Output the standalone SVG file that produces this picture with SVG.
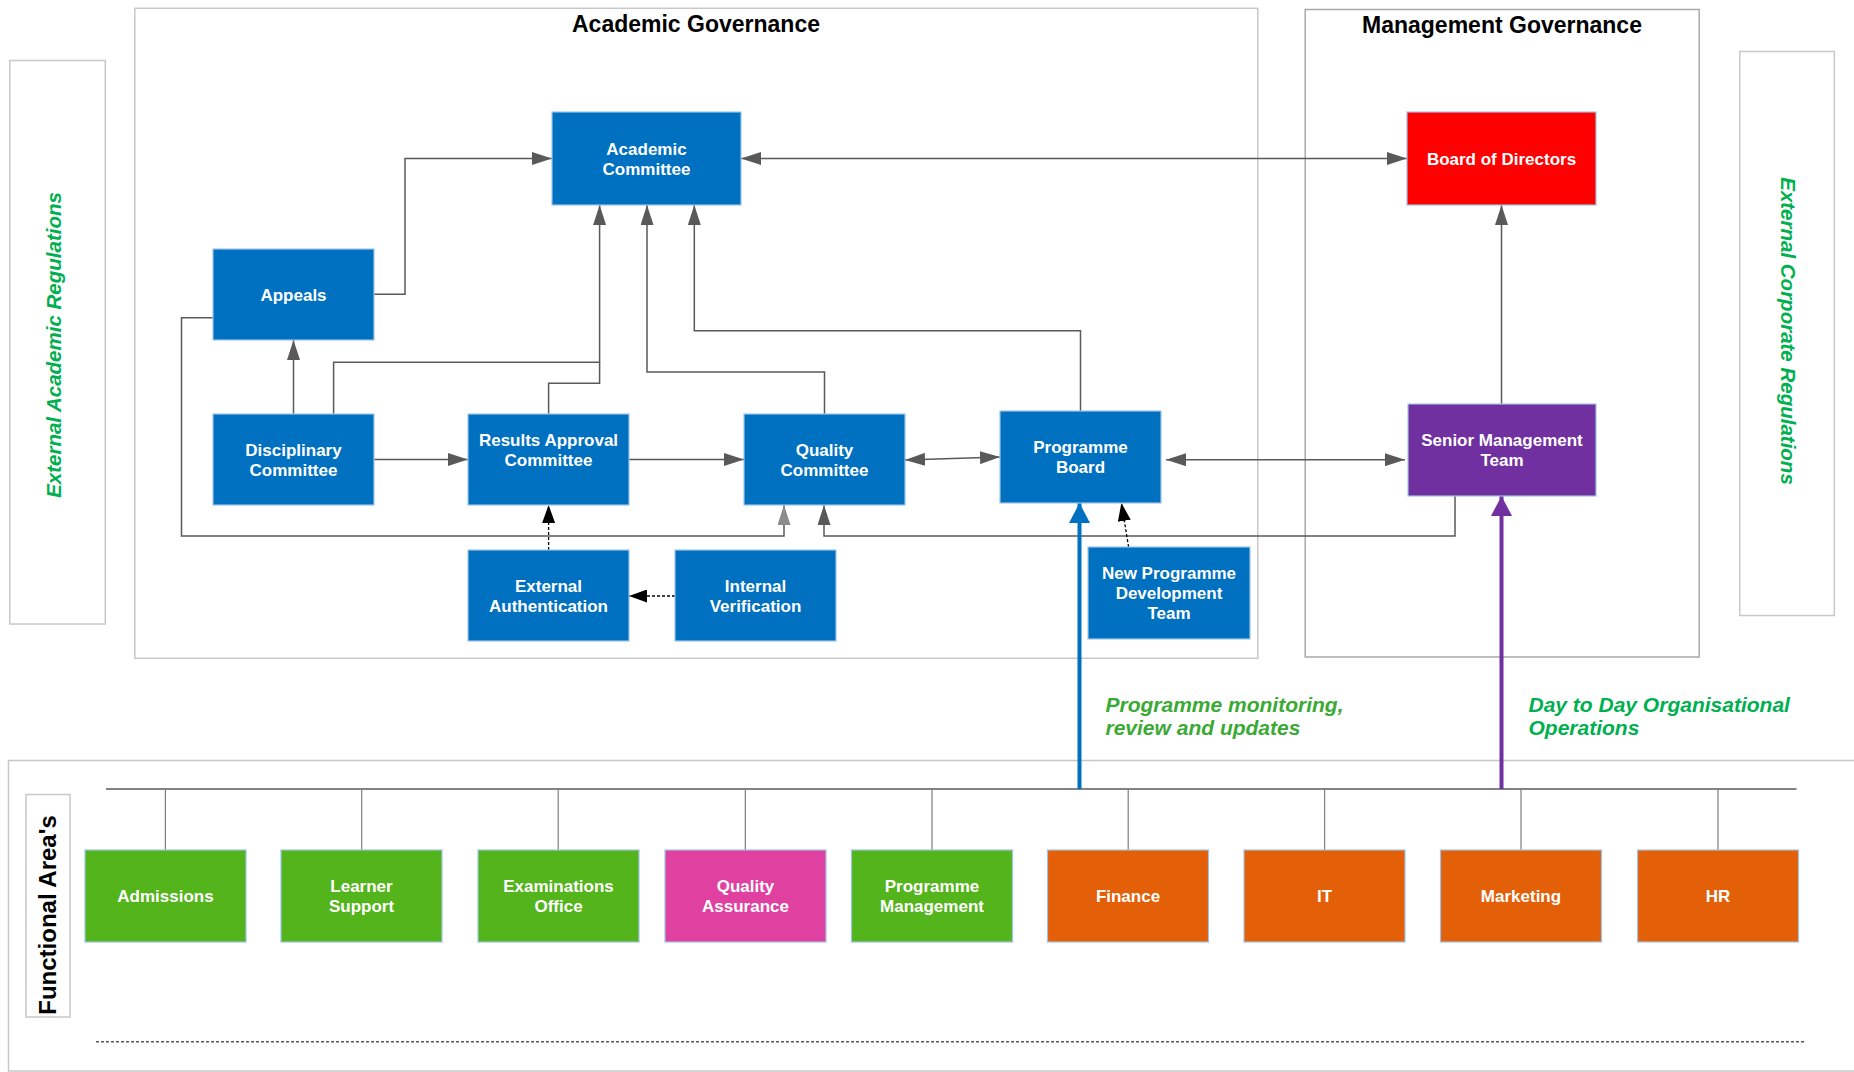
<svg xmlns="http://www.w3.org/2000/svg" width="1854" height="1072" viewBox="0 0 1854 1072">
  <style>
    .cont{fill:none;stroke:#c8c8c8;stroke-width:1.5}
    .cont2{fill:none;stroke:#a8a8a8;stroke-width:1.5}
    .node{stroke:#9dc3e6;stroke-width:1.2}
    .blue{fill:#0070c0}
    .red{fill:#ff0000}
    .purple{fill:#7030a0}
    .green{fill:#54b41c}
    .magenta{fill:#e040a0}
    .orange{fill:#e36009}
    .nt{font-family:"Liberation Sans",Arial,sans-serif;font-weight:bold;font-size:17px;fill:#ffffff;text-anchor:middle}
    .title{font-family:"Liberation Sans",Arial,sans-serif;font-weight:bold;font-size:23px;fill:#000000;text-anchor:middle}
    .reg{font-family:"Liberation Sans",Arial,sans-serif;font-weight:bold;font-style:italic;font-size:20.5px;fill:#00b050;text-anchor:middle}
    .lbl{font-family:"Liberation Sans",Arial,sans-serif;font-weight:bold;font-style:italic;font-size:21px}
    .c{fill:none;stroke:#595959;stroke-width:1.5}
    .d{fill:none;stroke:#000000;stroke-width:1.3;stroke-dasharray:3 2}
    .drop{fill:none;stroke:#7f7f7f;stroke-width:1.2}
  </style>
  <defs>
    <marker id="ag" markerUnits="userSpaceOnUse" markerWidth="20" markerHeight="13" refX="20" refY="6.5" orient="auto-start-reverse">
      <path d="M0,0 L20,6.5 L0,13 z" fill="#595959"/>
    </marker>
    <marker id="al" markerUnits="userSpaceOnUse" markerWidth="20" markerHeight="13" refX="20" refY="6.5" orient="auto-start-reverse">
      <path d="M0,0 L20,6.5 L0,13 z" fill="#8c8c8c"/>
    </marker>
    <marker id="ab" markerUnits="userSpaceOnUse" markerWidth="18" markerHeight="13" refX="18" refY="6.5" orient="auto">
      <path d="M0,0 L18,6.5 L0,13 z" fill="#000000"/>
    </marker>
    <marker id="abl" markerUnits="userSpaceOnUse" markerWidth="20" markerHeight="21" refX="20" refY="10.5" orient="auto">
      <path d="M0,0 L20,10.5 L0,21 z" fill="#0070c0"/>
    </marker>
    <marker id="apu" markerUnits="userSpaceOnUse" markerWidth="20" markerHeight="21" refX="20" refY="10.5" orient="auto">
      <path d="M0,0 L20,10.5 L0,21 z" fill="#7030a0"/>
    </marker>
  </defs>

  <g id="containers">
    <rect id="academic-governance" class="cont" x="134.8" y="8.3" width="1123" height="650"/>
    <rect id="management-governance" class="cont2" x="1305.2" y="9.5" width="394" height="647.5"/>
    <rect id="ext-academic-box" class="cont" x="9.8" y="60.5" width="95.5" height="563.5"/>
    <rect id="ext-corporate-box" class="cont" x="1739.8" y="51.5" width="94.5" height="564"/>
    <rect id="functional-areas-box" class="cont" x="8.5" y="760.5" width="1860" height="310.5"/>
    <rect id="functional-label-box" class="cont" x="26" y="794.5" width="44" height="222.5"/>
    <text class="title" x="696" y="32">Academic Governance</text>
    <text class="title" x="1502" y="33">Management Governance</text>
    <text class="reg" transform="translate(61,345) rotate(-90)">External Academic Regulations</text>
    <text class="reg" transform="translate(1781,331) rotate(90)">External Corporate Regulations</text>
    <text class="title" transform="translate(56,915) rotate(-90)" style="font-size:24px">Functional Area's</text>
  </g>

  <g id="connectors">
    <path class="c" d="M374,294.3 H405 V158.5 H552" marker-end="url(#ag)"/>
    <path class="c" d="M741,158.5 H1407" marker-start="url(#ag)" marker-end="url(#ag)"/>
    <path class="c" d="M333.6,414 V362.3 H599.6 V205" marker-end="url(#ag)"/>
    <path class="c" d="M548.6,414 V383.3 H599.6 V362.3"/>
    <path class="c" d="M824.5,414 V372 H647 V205" marker-end="url(#ag)"/>
    <path class="c" d="M1080.5,411 V330.7 H694.3 V205" marker-end="url(#ag)"/>
    <path class="c" d="M293.5,414 V340" marker-end="url(#ag)"/>
    <path class="c" d="M374,459.5 H468" marker-end="url(#ag)"/>
    <path class="c" d="M629,459.5 H744" marker-end="url(#ag)"/>
    <path class="c" d="M905,460 L1000,457" marker-start="url(#ag)" marker-end="url(#ag)"/>
    <path class="c" d="M1166,459.7 H1405" marker-start="url(#ag)" marker-end="url(#ag)"/>
    <path class="c" d="M1501.5,404 V205" marker-end="url(#ag)"/>
    <path class="c" d="M1455,496 V536 H824 V505" marker-end="url(#ag)"/>
    <path class="c" d="M213,317.7 H181.5 V536 H784 V505" marker-end="url(#al)"/>
    <path class="d" d="M548.6,550 V505" marker-end="url(#ab)"/>
    <path class="d" d="M675,596 H629" marker-end="url(#ab)"/>
    <path class="d" d="M1128.6,547 L1121.4,503" marker-end="url(#ab)"/>
    <path class="c" d="M106,789 H1796.5"/>
    <path class="drop" d="M165.4,789 V850 M361.7,789 V850 M558.2,789 V850 M745.3,789 V850 M932,789 V850 M1128.2,789 V850 M1324.6,789 V850 M1521,789 V850 M1718,789 V850"/>
    <path fill="none" stroke="#0070c0" stroke-width="4" d="M1079.5,789 V503" marker-end="url(#abl)"/>
    <path fill="none" stroke="#7030a0" stroke-width="4" d="M1501.5,789 V496" marker-end="url(#apu)"/>
    <path fill="none" stroke="#595959" stroke-width="1.5" stroke-dasharray="3 2" d="M96,1041.7 H1806"/>
  </g>

  <g id="labels">
    <text class="lbl" fill="#3aaa35" x="1105.5" y="712">Programme monitoring,</text>
    <text class="lbl" fill="#3aaa35" x="1105.5" y="735">review and updates</text>
    <text class="lbl" fill="#00b050" x="1528.5" y="712">Day to Day Organisational</text>
    <text class="lbl" fill="#00b050" x="1528.5" y="735">Operations</text>
  </g>

  <g id="academic-committee"><rect class="node blue" x="552" y="112" width="189" height="93"/><text class="nt" x="646.5" y="154.5">Academic</text><text class="nt" x="646.5" y="174.5">Committee</text></g>
  <g id="appeals"><rect class="node blue" x="213" y="249" width="161" height="91"/><text class="nt" x="293.5" y="300.5">Appeals</text></g>
  <g id="disciplinary-committee"><rect class="node blue" x="213" y="414" width="161" height="91"/><text class="nt" x="293.5" y="455.5">Disciplinary</text><text class="nt" x="293.5" y="475.5">Committee</text></g>
  <g id="results-approval-committee"><rect class="node blue" x="468" y="414" width="161" height="91"/><text class="nt" x="548.5" y="446">Results Approval</text><text class="nt" x="548.5" y="465.5">Committee</text></g>
  <g id="quality-committee"><rect class="node blue" x="744" y="414" width="161" height="91"/><text class="nt" x="824.5" y="455.5">Quality</text><text class="nt" x="824.5" y="475.5">Committee</text></g>
  <g id="programme-board"><rect class="node blue" x="1000" y="411" width="161" height="92"/><text class="nt" x="1080.5" y="453">Programme</text><text class="nt" x="1080.5" y="473">Board</text></g>
  <g id="external-authentication"><rect class="node blue" x="468" y="550" width="161" height="91"/><text class="nt" x="548.5" y="591.5">External</text><text class="nt" x="548.5" y="611.5">Authentication</text></g>
  <g id="internal-verification"><rect class="node blue" x="675" y="550" width="161" height="91"/><text class="nt" x="755.5" y="591.5">Internal</text><text class="nt" x="755.5" y="611.5">Verification</text></g>
  <g id="new-programme-development-team"><rect class="node blue" x="1088" y="547" width="162" height="92"/><text class="nt" x="1169" y="579">New Programme</text><text class="nt" x="1169" y="599">Development</text><text class="nt" x="1169" y="619">Team</text></g>
  <g id="board-of-directors"><rect class="node red" x="1407" y="112" width="189" height="93"/><text class="nt" x="1501.5" y="164.5">Board of Directors</text></g>
  <g id="senior-management-team"><rect class="node purple" x="1408" y="404" width="188" height="92"/><text class="nt" x="1502" y="446">Senior Management</text><text class="nt" x="1502" y="465.5">Team</text></g>

  <g id="admissions"><rect class="node green" x="85" y="850" width="161" height="92"/><text class="nt" x="165.5" y="902">Admissions</text></g>
  <g id="learner-support"><rect class="node green" x="281" y="850" width="161" height="92"/><text class="nt" x="361.5" y="892">Learner</text><text class="nt" x="361.5" y="912">Support</text></g>
  <g id="examinations-office"><rect class="node green" x="478" y="850" width="161" height="92"/><text class="nt" x="558.5" y="892">Examinations</text><text class="nt" x="558.5" y="912">Office</text></g>
  <g id="quality-assurance"><rect class="node magenta" x="665" y="850" width="161" height="92"/><text class="nt" x="745.5" y="892">Quality</text><text class="nt" x="745.5" y="912">Assurance</text></g>
  <g id="programme-management"><rect class="node green" x="851.5" y="850" width="161" height="92"/><text class="nt" x="932" y="892">Programme</text><text class="nt" x="932" y="912">Management</text></g>
  <g id="finance"><rect class="node orange" x="1047.5" y="850" width="161" height="92"/><text class="nt" x="1128" y="902">Finance</text></g>
  <g id="it"><rect class="node orange" x="1244" y="850" width="161" height="92"/><text class="nt" x="1324.5" y="902">IT</text></g>
  <g id="marketing"><rect class="node orange" x="1440.5" y="850" width="161" height="92"/><text class="nt" x="1521" y="902">Marketing</text></g>
  <g id="hr"><rect class="node orange" x="1637.5" y="850" width="161" height="92"/><text class="nt" x="1718" y="902">HR</text></g>
</svg>
